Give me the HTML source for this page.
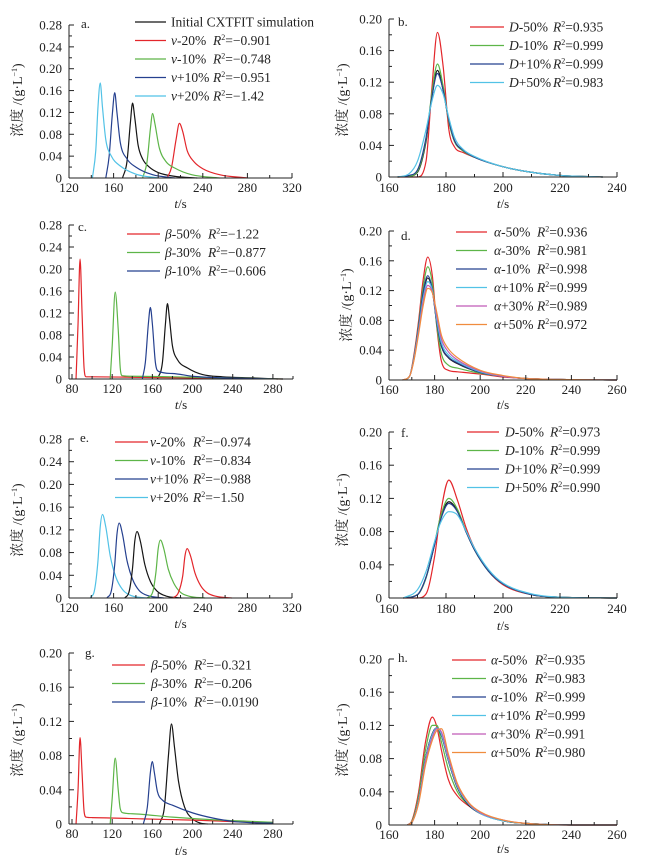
<!DOCTYPE html>
<html><head><meta charset="utf-8">
<style>
html,body{margin:0;padding:0;background:#fff;}
svg{display:block;font-family:"Liberation Serif","Noto Serif CJK SC",serif;}
</style></head>
<body>
<svg id="fig" width="648" height="866" viewBox="0 0 648 866" xmlns="http://www.w3.org/2000/svg"></svg>
<script>
// ---------- data (t in s, concentration in g/L) ----------
// panel a
const a_black_t=[168,172,175,177,179,182,186,192,200,215,235];
const a_black_c=[0,0.03,0.10,0.137,0.11,0.06,0.035,0.02,0.01,0.003,0];
const a_red_t=[208,212,216,219,222,226,232,240,255,280];
const a_red_c=[0,0.02,0.07,0.10,0.085,0.05,0.03,0.017,0.006,0];
const a_green_t=[186,190,193,195,197,201,207,215,230,255];
const a_green_c=[0,0.03,0.09,0.118,0.10,0.055,0.03,0.018,0.006,0];
const a_blue_t=[153,156,159,161,163,166,172,180,195,215];
const a_blue_c=[0,0.04,0.12,0.156,0.12,0.065,0.035,0.02,0.006,0];
const a_cyan_t=[141,144,146,148,150,153,158,166,180,200];
const a_cyan_c=[0,0.05,0.13,0.174,0.13,0.07,0.04,0.022,0.007,0];
// panel b
const b_t=[163,167,170,173,175,177,179,181,183,186,190,200,210,220,235];
const b_black_c=[0,0.001,0.006,0.045,0.10,0.135,0.11,0.07,0.045,0.033,0.025,0.013,0.006,0.002,0];
const b_red_c=[0,0,0,0.02,0.11,0.183,0.14,0.06,0.038,0.031,0.025,0.013,0.006,0.002,0];
const b_green_c=[0,0.001,0.007,0.048,0.105,0.143,0.115,0.07,0.045,0.033,0.025,0.013,0.006,0.002,0];
const b_blue_c=[0,0.002,0.009,0.05,0.10,0.131,0.11,0.072,0.046,0.034,0.025,0.013,0.006,0.002,0];
const b_cyan_c=[0,0.004,0.02,0.06,0.095,0.116,0.105,0.075,0.05,0.035,0.026,0.013,0.006,0.002,0];
// panel c
const c_black_t=[165,170,173,175,177,180,185,195,210,230,260,285];
const c_black_c=[0,0.03,0.10,0.137,0.11,0.06,0.035,0.02,0.008,0.004,0.002,0];
const c_red_t=[84,86,88,90,92,94,100,150,200,250,290];
const c_red_c=[0,0.10,0.218,0.12,0.02,0.004,0.004,0.003,0.002,0.001,0];
const c_green_t=[118,120,123,126,128,130,140,180,230,290];
const c_green_c=[0,0.06,0.158,0.09,0.02,0.006,0.005,0.004,0.002,0];
const c_blue_t=[150,153,156,158,160,163,166,180,200,230,290];
const c_blue_c=[0,0.03,0.10,0.13,0.10,0.03,0.014,0.01,0.005,0.002,0];
// panel d
const d_t=[166,169,171,173,175,177,179,181,183,186,190,200,210,220,240,260];
const d_black_c=[0,0.005,0.03,0.07,0.115,0.137,0.12,0.075,0.045,0.03,0.022,0.01,0.005,0.002,0.0005,0];
const d_red_c=[0,0.005,0.035,0.08,0.135,0.165,0.14,0.07,0.025,0.013,0.011,0.008,0.004,0.002,0.0005,0];
const d_green_c=[0,0.005,0.032,0.075,0.125,0.152,0.13,0.072,0.035,0.02,0.016,0.009,0.005,0.002,0.0005,0];
const d_blue_c=[0,0.005,0.031,0.072,0.118,0.140,0.122,0.076,0.046,0.031,0.023,0.01,0.005,0.002,0.0005,0];
const d_cyan_c=[0,0.005,0.03,0.068,0.11,0.132,0.12,0.08,0.05,0.034,0.025,0.011,0.005,0.002,0.0005,0];
const d_magenta_c=[0,0.005,0.028,0.065,0.105,0.127,0.118,0.085,0.055,0.038,0.027,0.012,0.005,0.002,0.0005,0];
const d_orange_c=[0,0.005,0.027,0.062,0.10,0.123,0.117,0.09,0.06,0.042,0.03,0.013,0.006,0.002,0.0005,0];
// panel e
const e_cyan_t=[139,143,146,148,150,153,157,162,168,176,190];
const e_cyan_c=[0,0.015,0.066,0.125,0.147,0.125,0.074,0.037,0.015,0.004,0];
const e_blue_t=[154,158,161,163,165,168,172,177,183,191,205];
const e_blue_c=[0,0.013,0.059,0.112,0.132,0.112,0.066,0.033,0.013,0.004,0];
const e_black_t=[170,174,177,179,181,184,188,193,199,207,221];
const e_black_c=[0,0.012,0.053,0.1,0.117,0.1,0.059,0.029,0.012,0.0035,0];
const e_green_t=[190,195,198,200,202,205,209,214,220,228,242];
const e_green_c=[0,0.01,0.046,0.087,0.102,0.087,0.051,0.026,0.01,0.003,0];
const e_red_t=[213,218,222,224,226,229,233,238,244,252,266];
const e_red_c=[0,0.009,0.039,0.074,0.087,0.074,0.044,0.022,0.009,0.003,0];
// panel f
const f_t=[165,170,173,176,178,181,184,187,190,195,200,210,220,240];
const f_black_c=[0,0.004,0.025,0.065,0.095,0.116,0.105,0.08,0.058,0.032,0.017,0.004,0.001,0];
const f_red_c=[0,0,0.005,0.05,0.10,0.142,0.118,0.085,0.06,0.032,0.016,0.004,0.001,0];
const f_green_c=[0,0.004,0.024,0.066,0.097,0.120,0.107,0.081,0.058,0.032,0.017,0.004,0.001,0];
const f_blue_c=[0,0.004,0.025,0.064,0.093,0.114,0.104,0.08,0.058,0.032,0.017,0.004,0.001,0];
const f_cyan_c=[0,0.01,0.032,0.068,0.09,0.104,0.1,0.081,0.06,0.034,0.018,0.005,0.001,0];
// panel g
const g_black_t=[167,172,176,179,182,186,192,200,208,215];
const g_black_c=[0,0.02,0.08,0.117,0.09,0.05,0.02,0.006,0.001,0];
const g_red_t=[84,86,88,90,92,94,100,150,200,250,280];
const g_red_c=[0,0.04,0.101,0.06,0.015,0.008,0.0075,0.006,0.0045,0.0025,0.002];
const g_green_t=[118,120,123,126,128,131,140,180,220,260,280];
const g_green_c=[0,0.03,0.077,0.04,0.018,0.013,0.012,0.008,0.005,0.003,0.002];
const g_blue_t=[151,155,158,160,162,165,170,180,200,220,240,260,280];
const g_blue_c=[0,0.02,0.06,0.073,0.06,0.038,0.028,0.022,0.013,0.007,0.003,0.0015,0.001];
// panel h
const h_t=[168,170,173,176,179,181,183,186,190,195,200,210,220,240,260];
const h_red_c=[0,0.005,0.04,0.10,0.13,0.118,0.09,0.055,0.035,0.023,0.014,0.005,0.002,0,0];
const h_green_c=[0,0.004,0.035,0.09,0.12,0.12,0.10,0.068,0.04,0.024,0.014,0.005,0.002,0,0];
const h_blue_c=[0,0.003,0.03,0.08,0.11,0.117,0.108,0.078,0.045,0.024,0.014,0.005,0.002,0,0];
const h_black_c=[0,0.003,0.03,0.08,0.11,0.117,0.108,0.078,0.045,0.024,0.014,0.005,0.002,0,0];
const h_cyan_c=[0,0.003,0.03,0.079,0.109,0.117,0.109,0.079,0.046,0.025,0.014,0.005,0.002,0,0];
const h_magenta_c=[0,0.003,0.028,0.076,0.106,0.116,0.112,0.082,0.048,0.026,0.015,0.006,0.002,0,0];
const h_orange_c=[0,0.003,0.026,0.072,0.102,0.114,0.116,0.086,0.05,0.027,0.016,0.006,0.002,0,0];

// legend texts
const a_leg=[["Initial CXTFIT simulation",""],["v|-20%","−0.901"],["v|-10%","−0.748"],["v|+10%","−0.951"],["v|+20%","−1.42"]];
const b_leg=[["D|-50%","0.935"],["D|-10%","0.999"],["D|+10%","0.999"],["D|+50%","0.983"]];
const c_leg=[["β|-50%","−1.22"],["β|-30%","−0.877"],["β|-10%","−0.606"]];
const d_leg=[["α|-50%","0.936"],["α|-30%","0.981"],["α|-10%","0.998"],["α|+10%","0.999"],["α|+30%","0.989"],["α|+50%","0.972"]];
const e_leg=[["v|-20%","−0.974"],["v|-10%","−0.834"],["v|+10%","−0.988"],["v|+20%","−1.50"]];
const f_leg=[["D|-50%","0.973"],["D|-10%","0.999"],["D|+10%","0.999"],["D|+50%","0.990"]];
const g_leg=[["β|-50%","−0.321"],["β|-30%","−0.206"],["β|-10%","−0.0190"]];
const h_leg=[["α|-50%","0.935"],["α|-30%","0.983"],["α|-10%","0.999"],["α|+10%","0.999"],["α|+30%","0.991"],["α|+50%","0.980"]];

const COL={red:"#e3262b",green:"#5db548",blue:"#25408f",cyan:"#52c2e6",black:"#151515",magenta:"#c05ab8",orange:"#f08c3e"};

const panels=[
 {id:"a",x0:69,x1:292,dom:[120,320],yb:178,yt:25,ymax:0.28,xlab:[120,160,200,240,280,320],xmin:20,ymaj:0.04,lblY:192,tsY:208,ytitle:[22,100],tag:[81,28],
  series:[["black",a_black_t,a_black_c],["red",a_red_t,a_red_c],["green",a_green_t,a_green_c],["blue",a_blue_t,a_blue_c],["cyan",a_cyan_t,a_cyan_c]],
  leg:a_leg,legCols:["black","red","green","blue","cyan"],lx:[135,166,171,213],ly:[22,40.5,59,77.5,96]},
 {id:"b",x0:389,x1:617,dom:[160,240],yb:177,yt:19,ymax:0.20,xlab:[160,180,200,220,240],xmin:10,ymaj:0.04,lblY:192,tsY:208,ytitle:[347,100],tag:[398,26],
  series:[["black",b_t,b_black_c],["red",b_t,b_red_c],["green",b_t,b_green_c],["blue",b_t,b_blue_c],["cyan",b_t,b_cyan_c]],
  leg:b_leg,legCols:["red","green","blue","cyan"],lx:[470,504,509,553],ly:[27,45.5,64,82.5]},
 {id:"c",x0:69,x1:293,dom:[77,300],yb:379,yt:225,ymax:0.28,xlab:[80,120,160,200,240,280],xmin:20,ymaj:0.04,lblY:393,tsY:409,ytitle:null,tag:[78,231],
  series:[["black",c_black_t,c_black_c],["red",c_red_t,c_red_c],["green",c_green_t,c_green_c],["blue",c_blue_t,c_blue_c]],
  leg:c_leg,legCols:["red","green","blue"],lx:[127,160,165,208],ly:[234,252.5,271]},
 {id:"d",x0:389,x1:617,dom:[160,260],yb:380,yt:231,ymax:0.20,xlab:[160,180,200,220,240,260],xmin:10,ymaj:0.04,lblY:394,tsY:409,ytitle:[351,305],tag:[401,240],
  series:[["black",d_t,d_black_c],["red",d_t,d_red_c],["green",d_t,d_green_c],["blue",d_t,d_blue_c],["cyan",d_t,d_cyan_c],["magenta",d_t,d_magenta_c],["orange",d_t,d_orange_c]],
  leg:d_leg,legCols:["red","green","blue","cyan","magenta","orange"],lx:[456,487,494,537],ly:[232,250.5,269,287.5,306,324.5]},
 {id:"e",x0:69,x1:292,dom:[120,320],yb:598,yt:439,ymax:0.28,xlab:[120,160,200,240,280,320],xmin:20,ymaj:0.04,lblY:612,tsY:628,ytitle:[22,520],tag:[80,442],
  series:[["cyan",e_cyan_t,e_cyan_c],["blue",e_blue_t,e_blue_c],["black",e_black_t,e_black_c],["green",e_green_t,e_green_c],["red",e_red_t,e_red_c]],
  leg:e_leg,legCols:["red","green","blue","cyan"],lx:[115,148,150,193],ly:[442,460.5,479,497.5]},
 {id:"f",x0:389,x1:617,dom:[160,240],yb:598,yt:432,ymax:0.20,xlab:[160,180,200,220,240],xmin:10,ymaj:0.04,lblY:613,tsY:630,ytitle:[347,510],tag:[401,437],
  series:[["black",f_t,f_black_c],["red",f_t,f_red_c],["green",f_t,f_green_c],["blue",f_t,f_blue_c],["cyan",f_t,f_cyan_c]],
  leg:f_leg,legCols:["red","green","blue","cyan"],lx:[467,499,505,550],ly:[432,450.5,469,487.5]},
 {id:"g",x0:69,x1:293,dom:[77,300],yb:824,yt:653,ymax:0.20,xlab:[80,120,160,200,240,280],xmin:20,ymaj:0.04,lblY:838,tsY:855,ytitle:[22,740],tag:[85,657],
  series:[["black",g_black_t,g_black_c],["red",g_red_t,g_red_c],["green",g_green_t,g_green_c],["blue",g_blue_t,g_blue_c]],
  leg:g_leg,legCols:["red","green","blue"],lx:[112,145,151,194],ly:[665,683.5,702]},
 {id:"h",x0:389,x1:617,dom:[160,260],yb:825,yt:659,ymax:0.20,xlab:[160,180,200,220,240,260],xmin:10,ymaj:0.04,lblY:839,tsY:853,ytitle:[347,740],tag:[398,662],
  series:[["red",h_t,h_red_c],["green",h_t,h_green_c],["blue",h_t,h_blue_c],["black",h_t,h_black_c],["cyan",h_t,h_cyan_c],["magenta",h_t,h_magenta_c],["orange",h_t,h_orange_c]],
  leg:h_leg,legCols:["red","green","blue","cyan","magenta","orange"],lx:[452,486,491,535],ly:[660,678.5,697,715.5,734,752.5]}
];

const NS="http://www.w3.org/2000/svg";
const svg=document.getElementById("fig");
function mk(tag,attrs,parent){const e=document.createElementNS(NS,tag);for(const k in attrs)e.setAttribute(k,attrs[k]);(parent||svg).appendChild(e);return e;}

function monoPath(px,py){
  const n=px.length;if(n<2)return "";
  const dx=[],m=[];
  for(let i=0;i<n-1;i++){dx.push(px[i+1]-px[i]);m.push((py[i+1]-py[i])/dx[i]);}
  const t=new Array(n);t[0]=m[0];t[n-1]=m[n-2];
  for(let i=1;i<n-1;i++){t[i]=(m[i-1]*m[i]<=0)?0:(m[i-1]+m[i])/2;}
  for(let i=0;i<n-1;i++){
    if(m[i]===0){t[i]=0;t[i+1]=0;continue;}
    const a=t[i]/m[i],b=t[i+1]/m[i],s=a*a+b*b;
    if(s>9){const k=3/Math.sqrt(s);t[i]=k*a*m[i];t[i+1]=k*b*m[i];}
  }
  let d="M"+px[0].toFixed(2)+","+py[0].toFixed(2);
  for(let i=0;i<n-1;i++){
    const h=dx[i]/3;
    d+=" C"+(px[i]+h).toFixed(2)+","+(py[i]+t[i]*h).toFixed(2)+" "+(px[i+1]-h).toFixed(2)+","+(py[i+1]-t[i+1]*h).toFixed(2)+" "+px[i+1].toFixed(2)+","+py[i+1].toFixed(2);
  }
  return d;
}
function fmtY(v){return v===0?"0":v.toFixed(2);}

panels.forEach(p=>{
  const g=mk("g",{});
  
  
  const X=v=>p.x0+(v-p.dom[0])/(p.dom[1]-p.dom[0])*(p.x1-p.x0);
  const Y=v=>p.yb-(v/p.ymax)*(p.yb-p.yt);
  p.series.forEach(s=>{
    const xs=s[1].map(X),ys=s[2].map(Y);
    const path=mk("path",{d:monoPath(xs,ys),fill:"none",stroke:COL[s[0]],"stroke-width":1.2,"stroke-linejoin":"round"},g);
    
    
  });
  const ax=mk("g",{stroke:"#222","stroke-width":1},g);
  
  
  mk("line",{x1:p.x0,y1:p.yt,x2:p.x0,y2:p.yb},ax);
  mk("line",{x1:p.x0,y1:p.yb,x2:p.x1,y2:p.yb},ax);
  const start=Math.ceil(p.dom[0]/p.xmin)*p.xmin;
  for(let v=start;v<=p.dom[1]+0.001;v+=p.xmin){
    const major=p.xlab.indexOf(v)>=0;
    mk("line",{x1:X(v),y1:p.yb,x2:X(v),y2:p.yb-(major?5:3)},ax);
  }
  p.xlab.forEach(v=>{
    const t=mk("text",{x:X(v),y:p.lblY,"font-size":13,"text-anchor":"middle",fill:"#222"},g);
    t.textContent=v;
    
    
  });
  const nY=Math.round(p.ymax/p.ymaj);
  for(let i=0;i<=nY;i++){
    const v=i*p.ymaj;
    mk("line",{x1:p.x0,y1:Y(v),x2:p.x0+5,y2:Y(v)},ax);
    if(i<nY)mk("line",{x1:p.x0,y1:Y(v+p.ymaj/2),x2:p.x0+3,y2:Y(v+p.ymaj/2)},ax);
    const t=mk("text",{x:p.x0-7,y:Y(v)+4.5,"font-size":13,"text-anchor":"end",fill:"#222"},g);
    t.textContent=fmtY(v);
    
    
  }
  const xt=mk("text",{x:(p.x0+p.x1)/2,y:p.tsY,"font-size":13,"text-anchor":"middle",fill:"#222"},g);
  xt.innerHTML='<tspan font-style="italic">t</tspan>/s';
  
  
  if(p.ytitle){
    const yt=mk("text",{x:p.ytitle[0],y:p.ytitle[1],"font-size":14,"text-anchor":"middle",fill:"#222",transform:"rotate(-90 "+p.ytitle[0]+" "+p.ytitle[1]+")"},g);
    yt.innerHTML='浓度 /(g·L<tspan font-size="8" dy="-5">−1</tspan><tspan dy="5">)</tspan>';
    
    
  }
  const tg=mk("text",{x:p.tag[0],y:p.tag[1],"font-size":13,fill:"#222"},g);
  tg.textContent=p.id+".";
  
  
  p.leg.forEach((L,i)=>{
    const y=p.ly[i];
    const ln=mk("line",{x1:p.lx[0],y1:y,x2:p.lx[1],y2:y,stroke:COL[p.legCols[i]],"stroke-width":1.3},g);
    
    
    const t=mk("text",{x:p.lx[2],y:y+4.5,"font-size":13.5,fill:"#222"},g);
    if(L[0].indexOf("|")>=0){const parts=L[0].split("|");t.innerHTML='<tspan font-style="italic">'+parts[0]+'</tspan>'+parts[1];}
    else t.textContent=L[0];
    
    
    if(L[1]){
      const r=mk("text",{x:p.lx[3],y:y+4.5,"font-size":13.5,fill:"#222"},g);
      r.innerHTML='<tspan font-style="italic">R</tspan><tspan font-size="8" dy="-5">2</tspan><tspan dy="5">='+L[1]+'</tspan>';
      
      
    }
  });
});
</script>
</body></html>
